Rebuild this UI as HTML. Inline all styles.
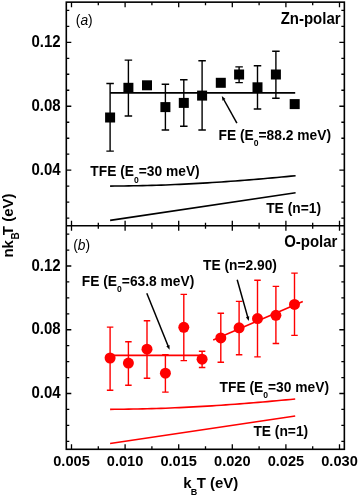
<!DOCTYPE html>
<html><head><meta charset="utf-8"><style>
html,body{margin:0;padding:0;background:#fff;}
svg{display:block;will-change:transform;}
text{font-family:"Liberation Sans",sans-serif;fill:#000;}
</style></head><body>
<svg width="358" height="497" viewBox="0 0 358 497">
<rect width="358" height="497" fill="#fff"/>
<rect x="66.3" y="2.15" width="278.05" height="447.15000000000003" fill="none" stroke="#000" stroke-width="1.6"/>
<line x1="66.3" y1="225.8" x2="344.35" y2="225.8" stroke="#000" stroke-width="1.6"/>
<path d="M71.50 2.15v5M71.50 220.8v10M71.50 449.3v-5M98.30 2.15v3M98.30 222.8v6M98.30 449.3v-3M125.10 2.15v5M125.10 220.8v10M125.10 449.3v-5M151.90 2.15v3M151.90 222.8v6M151.90 449.3v-3M178.70 2.15v5M178.70 220.8v10M178.70 449.3v-5M205.50 2.15v3M205.50 222.8v6M205.50 449.3v-3M232.30 2.15v5M232.30 220.8v10M232.30 449.3v-5M259.10 2.15v3M259.10 222.8v6M259.10 449.3v-3M285.90 2.15v5M285.90 220.8v10M285.90 449.3v-5M312.70 2.15v3M312.70 222.8v6M312.70 449.3v-3M339.50 2.15v5M339.50 220.8v10M339.50 449.3v-5M66.3 218.16h3M344.35 218.16h-3M66.3 441.31h3M344.35 441.31h-3M66.3 202.17h3M344.35 202.17h-3M66.3 425.38h3M344.35 425.38h-3M66.3 186.19h3M344.35 186.19h-3M66.3 409.44h3M344.35 409.44h-3M66.3 170.20h5M344.35 170.20h-5M66.3 393.50h5M344.35 393.50h-5M66.3 154.21h3M344.35 154.21h-3M66.3 377.56h3M344.35 377.56h-3M66.3 138.23h3M344.35 138.23h-3M66.3 361.62h3M344.35 361.62h-3M66.3 122.24h3M344.35 122.24h-3M66.3 345.69h3M344.35 345.69h-3M66.3 106.25h5M344.35 106.25h-5M66.3 329.75h5M344.35 329.75h-5M66.3 90.26h3M344.35 90.26h-3M66.3 313.81h3M344.35 313.81h-3M66.3 74.27h3M344.35 74.27h-3M66.3 297.88h3M344.35 297.88h-3M66.3 58.29h3M344.35 58.29h-3M66.3 281.94h3M344.35 281.94h-3M66.3 42.30h5M344.35 42.30h-5M66.3 266.00h5M344.35 266.00h-5M66.3 26.31h3M344.35 26.31h-3M66.3 250.06h3M344.35 250.06h-3M66.3 10.32h3M344.35 10.32h-3M66.3 234.12h3M344.35 234.12h-3" stroke="#000" stroke-width="1.3" fill="none"/>
<text transform="translate(60.6 46.80) scale(1 1.08)" text-anchor="end" font-size="15" font-weight="bold">0.12</text>
<text transform="translate(60.6 270.50) scale(1 1.08)" text-anchor="end" font-size="15" font-weight="bold">0.12</text>
<text transform="translate(60.6 110.75) scale(1 1.08)" text-anchor="end" font-size="15" font-weight="bold">0.08</text>
<text transform="translate(60.6 334.25) scale(1 1.08)" text-anchor="end" font-size="15" font-weight="bold">0.08</text>
<text transform="translate(60.6 174.70) scale(1 1.08)" text-anchor="end" font-size="15" font-weight="bold">0.04</text>
<text transform="translate(60.6 398.00) scale(1 1.08)" text-anchor="end" font-size="15" font-weight="bold">0.04</text>
<text x="71.50" y="465.6" text-anchor="middle" font-size="14.6" font-weight="bold">0.005</text>
<text x="125.10" y="465.6" text-anchor="middle" font-size="14.6" font-weight="bold">0.010</text>
<text x="178.70" y="465.6" text-anchor="middle" font-size="14.6" font-weight="bold">0.015</text>
<text x="232.30" y="465.6" text-anchor="middle" font-size="14.6" font-weight="bold">0.020</text>
<text x="285.90" y="465.6" text-anchor="middle" font-size="14.6" font-weight="bold">0.025</text>
<text x="339.50" y="465.6" text-anchor="middle" font-size="14.6" font-weight="bold">0.030</text>
<path d="M110.1 83.5V151.1M106.35 83.5h7.5M106.35 151.1h7.5M128.4 60.1V116M124.65 60.1h7.5M124.65 116h7.5M165.4 84.3V130M161.65 84.3h7.5M161.65 130h7.5M183.8 79.7V126.3M180.05 79.7h7.5M180.05 126.3h7.5M202.1 60.8V130M198.35 60.8h7.5M198.35 130h7.5M239.1 66.9V82.6M235.35 66.9h7.5M235.35 82.6h7.5M257.5 65.7V109M253.75 65.7h7.5M253.75 109h7.5M275.9 51.3V98.2M272.15 51.3h7.5M272.15 98.2h7.5" stroke="#000" stroke-width="1.4" fill="none"/>
<rect x="105.10" y="112.50" width="10" height="10" fill="#000"/>
<rect x="123.40" y="82.80" width="10" height="10" fill="#000"/>
<rect x="142.00" y="80.30" width="10" height="10" fill="#000"/>
<rect x="160.40" y="102.10" width="10" height="10" fill="#000"/>
<rect x="178.80" y="97.90" width="10" height="10" fill="#000"/>
<rect x="197.10" y="90.60" width="10" height="10" fill="#000"/>
<rect x="215.80" y="77.80" width="10" height="10" fill="#000"/>
<rect x="234.10" y="69.50" width="10" height="10" fill="#000"/>
<rect x="252.50" y="82.30" width="10" height="10" fill="#000"/>
<rect x="270.90" y="69.50" width="10" height="10" fill="#000"/>
<rect x="289.70" y="99.10" width="10" height="10" fill="#000"/>
<path d="M110.1 92.9H295.2" stroke="#000" stroke-width="1.8"/>
<path d="M110.10 186.10L114.74 186.06L119.38 186.02L124.01 185.96L128.65 185.90L133.29 185.82L137.93 185.73L142.56 185.63L147.20 185.52L151.84 185.39L156.47 185.25L161.11 185.10L165.75 184.93L170.39 184.75L175.03 184.56L179.66 184.35L184.30 184.13L188.94 183.90L193.57 183.66L198.21 183.40L202.85 183.13L207.49 182.85L212.12 182.56L216.76 182.25L221.40 181.94L226.04 181.62L230.68 181.28L235.31 180.94L239.95 180.58L244.59 180.22L249.23 179.85L253.86 179.47L258.50 179.08L263.14 178.68L267.77 178.27L272.41 177.86L277.05 177.44L281.69 177.01L286.33 176.58L290.96 176.14L295.60 175.69" stroke="#000" stroke-width="1.6" fill="none"/>
<path d="M110.1 220.40L295.6 192.73" stroke="#000" stroke-width="1.6"/>
<path d="M110.1 327.1V390.3M106.85 327.1h6.5M106.85 390.3h6.5M128.4 341.8V385.3M125.15 341.8h6.5M125.15 385.3h6.5M147 320.8V378.3M143.75 320.8h6.5M143.75 378.3h6.5M165.4 354.7V392.1M162.15 354.7h6.5M162.15 392.1h6.5M183.8 294.4V360.6M180.55 294.4h6.5M180.55 360.6h6.5M202.1 351.2V367.5M198.85 351.2h6.5M198.85 367.5h6.5M220.8 313.2V362.3M217.55 313.2h6.5M217.55 362.3h6.5M239.1 301.4V354.7M235.85 301.4h6.5M235.85 354.7h6.5M257.5 280.3V356.9M254.25 280.3h6.5M254.25 356.9h6.5M275.9 286.4V343.5M272.65 286.4h6.5M272.65 343.5h6.5M294.5 273.1V335.4M291.25 273.1h6.5M291.25 335.4h6.5" stroke="#ff0000" stroke-width="1.4" fill="none"/>
<path d="M110.1 355.4H202.1" stroke="#ff0000" stroke-width="1.6"/>
<path d="M213.2 339.9L302.8 301.5" stroke="#ff0000" stroke-width="1.6"/>
<path d="M110.10 409.35L114.73 409.31L119.35 409.27L123.98 409.21L128.61 409.15L133.24 409.07L137.86 408.99L142.49 408.89L147.12 408.77L151.75 408.65L156.38 408.51L161.00 408.36L165.63 408.19L170.26 408.01L174.88 407.82L179.51 407.62L184.14 407.40L188.77 407.17L193.39 406.92L198.02 406.67L202.65 406.40L207.28 406.12L211.90 405.83L216.53 405.53L221.16 405.22L225.79 404.90L230.41 404.57L235.04 404.22L239.67 403.87L244.30 403.51L248.92 403.14L253.55 402.76L258.18 402.37L262.81 401.98L267.43 401.58L272.06 401.17L276.69 400.75L281.32 400.32L285.94 399.89L290.57 399.45L295.20 399.01" stroke="#ff0000" stroke-width="1.6" fill="none"/>
<path d="M110.1 443.54L295.2 416.02" stroke="#ff0000" stroke-width="1.6"/>
<circle cx="110.1" cy="358" r="5.5" fill="#ff0000"/>
<circle cx="128.4" cy="363.1" r="5.5" fill="#ff0000"/>
<circle cx="147" cy="349.2" r="5.5" fill="#ff0000"/>
<circle cx="165.4" cy="373.2" r="5.5" fill="#ff0000"/>
<circle cx="183.8" cy="327.3" r="5.5" fill="#ff0000"/>
<circle cx="202.1" cy="359.2" r="5.5" fill="#ff0000"/>
<circle cx="220.8" cy="337.9" r="5.5" fill="#ff0000"/>
<circle cx="239.1" cy="327.8" r="5.5" fill="#ff0000"/>
<circle cx="257.5" cy="318.6" r="5.5" fill="#ff0000"/>
<circle cx="275.9" cy="315.3" r="5.5" fill="#ff0000"/>
<circle cx="294.5" cy="304.4" r="5.5" fill="#ff0000"/>
<path d="M146.8 293.3L168.10 346.09" stroke="#000" stroke-width="1.5"/>
<path d="M169.6 349.8L166.34 346.26L169.49 344.99Z" fill="#000"/>
<path d="M237.2 279.7L247.72 317.15" stroke="#000" stroke-width="1.5"/>
<path d="M248.8 321.0L245.95 317.13L249.22 316.21Z" fill="#000"/>
<path d="M236.9 123.1L223.75 99.49" stroke="#000" stroke-width="1.5"/>
<path d="M221.8 96.0L225.48 99.10L222.51 100.76Z" fill="#000"/>
<text x="75.8" y="25.1" font-size="13.8">(<tspan font-style="italic">a</tspan>)</text>
<text x="73.2" y="249.7" font-size="13.8">(<tspan font-style="italic">b</tspan>)</text>
<text transform="translate(340.6 23.7) scale(1 1.06)" font-size="15" font-weight="bold" text-anchor="end">Zn-polar</text>
<text transform="translate(337.4 246.6) scale(1 1.06)" font-size="15" font-weight="bold" text-anchor="end">O-polar</text>
<text transform="translate(218.5 139.50) scale(1 1.07)" font-size="13.8" font-weight="bold" text-anchor="start">FE (E<tspan font-size="8.6" dy="5.8">0</tspan><tspan dy="-5.8">=88.2 meV)</tspan></text>
<text transform="translate(90.3 176.40) scale(1 1.07)" font-size="13.8" font-weight="bold" text-anchor="start">TFE (E<tspan font-size="8.6" dy="5.8">0</tspan><tspan dy="-5.8">=30 meV)</tspan></text>
<text transform="translate(266.2 213.40) scale(1 1.07)" font-size="13.8" font-weight="bold" text-anchor="start">TE (n=1)</text>
<text transform="translate(81.8 285.70) scale(1 1.07)" font-size="13.8" font-weight="bold" text-anchor="start">FE (E<tspan font-size="8.6" dy="5.8">0</tspan><tspan dy="-5.8">=63.8 meV)</tspan></text>
<text transform="translate(203 270.30) scale(1 1.07)" font-size="13.8" font-weight="bold" text-anchor="start">TE (n=2.90)</text>
<text transform="translate(219.6 392.00) scale(1 1.07)" font-size="13.8" font-weight="bold" text-anchor="start">TFE (E<tspan font-size="8.6" dy="5.8">0</tspan><tspan dy="-5.8">=30 meV)</tspan></text>
<text transform="translate(253.4 436.40) scale(1 1.07)" font-size="13.8" font-weight="bold" text-anchor="start">TE (n=1)</text>
<text x="183.3" y="488.2" font-size="15" font-weight="bold">k<tspan font-size="9" dy="6.6" dx="-0.9">B</tspan><tspan dy="-6.6" dx="-0.6">T (eV)</tspan></text>
<text transform="translate(13.1 257.6) rotate(-90)" x="0" y="0" font-size="15" font-weight="bold">nk<tspan font-size="10" dy="5.8" dx="0.6">B</tspan><tspan dy="-5.8" dx="-2.9">T (eV)</tspan></text>
</svg>
</body></html>
